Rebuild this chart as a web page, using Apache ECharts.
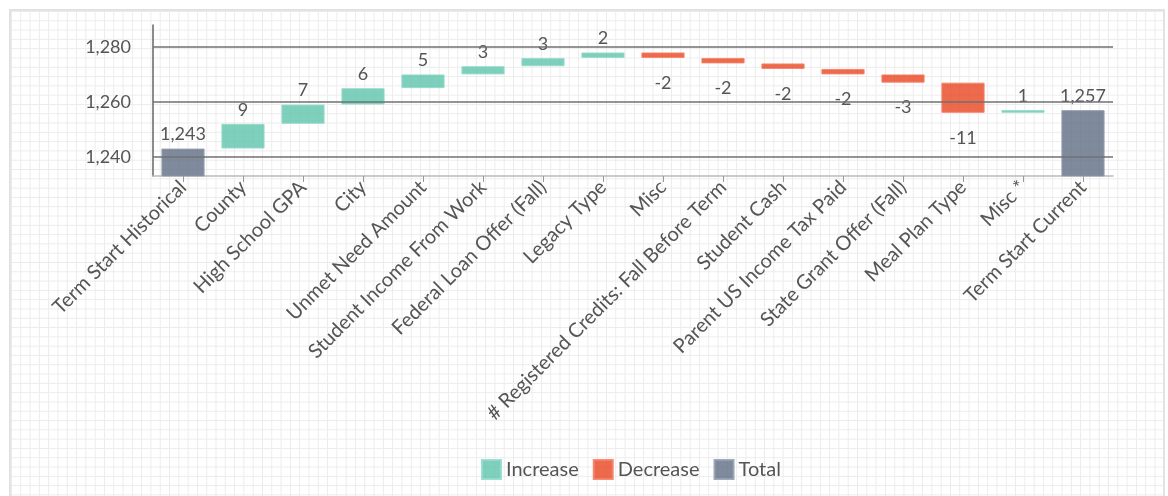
<!DOCTYPE html>
<html><head><meta charset="utf-8">
<script src="https://cdn.jsdelivr.net/npm/echarts@6/dist/echarts.min.js"></script>
<style>
html,body{margin:0;padding:0;background:#fff;width:1168px;height:496px;overflow:hidden;}
#frame{position:absolute;left:9px;top:9px;width:1152px;height:500px;border:2px solid #e2e2e2;
background-color:#fff;
background-image:linear-gradient(to right,#ebebeb 1px,transparent 1px),linear-gradient(to bottom,#ebebeb 1px,transparent 1px);
background-size:9.3px 9.3px;}
#chart{position:absolute;left:0;top:0;width:1168px;height:496px;}
</style></head>
<body><div id="frame"></div><div id="chart"></div>
<script>
const categories = ['Term Start Historical','County','High School GPA','City','Unmet Need Amount','Student Income From Work','Federal Loan Offer (Fall)','Legacy Type','Misc','# Registered Credits: Fall Before Term','Student Cash','Parent US Income Tax Paid','State Grant Offer (Fall)','Meal Plan Type','Misc *','Term Start Current'];
const startTotal = 1243;
const changes = [9,7,6,5,3,3,2,-2,-2,-2,-2,-3,-11,1];
const endTotal = 1257;
const yTicks = [1240,1260,1280];
const yMin = 1233;
const yMax = 1288;

const base = [], inc = [], dec = [], tot = [];
base.push(0); inc.push('-'); dec.push('-'); tot.push(startTotal);
let running = startTotal;
changes.forEach(c => {
  if (c >= 0) { base.push(running); inc.push(c); dec.push('-'); }
  else { base.push(running + c); inc.push('-'); dec.push(-c); }
  tot.push('-');
  running += c;
});
base.push(0); inc.push('-'); dec.push('-'); tot.push(endTotal);

const FONT = 'Lato';
const TXT = '#555';
const NUM = 18;
const chart = echarts.init(document.getElementById('chart'));
chart.setOption({
  animation: false,
  backgroundColor: 'transparent',
  textStyle: { fontFamily: FONT },
  grid: { left: 153, right: 55, top: 25, bottom: 320, containLabel: false },
  legend: {
    data: ['Increase','Decrease','Total'],
    left: 476, top: 454, itemWidth: 19, itemHeight: 19, itemGap: 14,
    icon: 'rect',
    textStyle: { fontSize: 20, color: TXT, fontFamily: FONT }
  },
  xAxis: {
    type: 'category', data: categories,
    axisLine: { lineStyle: { color: '#bbb', width: 1.5 } },
    axisTick: { show: true, alignWithLabel: true, length: 6, lineStyle: { color: '#999' } },
    axisLabel: { rotate: 45, margin: 8, color: TXT, fontSize: 20, fontFamily: FONT, interval: 0 }
  },
  yAxis: {
    type: 'value', min: yMin, max: yMax, interval: 1,
    axisLine: { show: true, lineStyle: { color: '#666', width: 1.5 } },
    axisTick: { show: false },
    splitLine: { show: false },
    axisLabel: {
      margin: 22, color: TXT, fontSize: NUM, fontFamily: FONT,
      formatter: v => yTicks.indexOf(v) >= 0 ? v.toLocaleString('en-US') : ''
    }
  },
  series: [
    {
      name: 'base', type: 'bar', stack: 'w', data: base, barWidth: '72%',
      itemStyle: { color: 'rgba(0,0,0,0)' }, silent: true,
      markLine: {
        silent: true, symbol: 'none', label: { show: false },
        lineStyle: { color: '#707070', width: 1.5, type: 'solid' },
        data: yTicks.map(v => ({ yAxis: v }))
      }
    },
    {
      name: 'Increase', type: 'bar', stack: 'w', data: inc, barWidth: '72%',
      itemStyle: { color: 'rgba(95,195,172,0.8)', borderColor: 'rgba(150,220,204,0.9)', borderWidth: 1 },
      label: { show: true, position: 'top', distance: 5, color: TXT, fontSize: NUM, fontFamily: FONT }
    },
    {
      name: 'Decrease', type: 'bar', stack: 'w', data: dec, barWidth: '72%',
      itemStyle: { color: 'rgba(232,69,31,0.8)', borderColor: 'rgba(245,130,105,0.9)', borderWidth: 1 },
      label: { show: true, position: 'bottom', distance: 16, color: TXT, fontSize: NUM, fontFamily: FONT,
        formatter: p => '-' + p.value }
    },
    {
      name: 'Total', type: 'bar', stack: 'w', data: tot, barWidth: '72%',
      itemStyle: { color: 'rgba(95,110,133,0.8)', borderColor: 'rgba(150,162,180,0.9)', borderWidth: 1 },
      label: { show: true, position: 'top', distance: 5, color: TXT, fontSize: NUM, fontFamily: FONT,
        formatter: p => p.value.toLocaleString('en-US') }
    }
  ]
});
</script>
</body></html>
